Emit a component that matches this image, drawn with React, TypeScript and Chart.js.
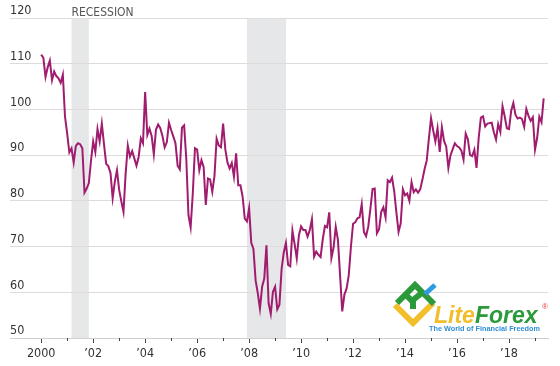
import React, { useEffect, useRef } from "react";
import { Chart, registerables } from "chart.js";

Chart.register(...registerables);

const startYear = 2000;
// Monthly index values, Jan 2000 .. May 2019
const sentiment2000s = [
  112.0, 111.3, 107.1, 109.2, 110.7, 106.4, 108.3, 107.3, 106.8, 105.8, 107.6, 98.4,
  94.7, 90.6, 91.5, 88.4, 92.0, 92.6, 92.4, 91.5, 81.8, 82.7, 83.9, 88.8,
  93.0, 90.7, 95.7, 93.0, 96.9, 92.4, 88.1, 87.6, 86.1, 80.6, 84.2, 86.7,
  82.4, 79.9, 77.6, 86.0, 92.1, 89.7, 90.9, 89.3, 87.7, 89.6, 93.7, 92.6,
  103.8, 94.4, 95.8, 94.2, 90.2, 95.6, 96.7, 95.9, 94.2, 91.7, 92.8, 97.1,
  95.5, 94.1, 92.6, 87.7, 86.9, 96.0, 96.5, 89.1, 76.9, 74.2, 81.6, 91.5,
  91.2, 86.7, 88.9, 87.4, 79.1, 84.9, 84.7, 82.0, 85.4, 93.6, 92.1, 91.7,
  96.9, 91.3, 88.4, 87.1, 88.3, 85.3, 90.4, 83.4, 83.4, 80.9, 76.1, 75.5,
  78.4, 70.8, 69.5, 62.6, 59.8, 56.4, 61.2, 63.0, 70.3, 57.6, 55.3, 60.1,
  61.2, 56.3, 57.3, 65.1, 68.7, 70.8, 66.0, 65.7, 73.5, 70.6, 67.4, 72.5,
];
const sentiment2010s = [
  74.4, 73.6, 73.6, 72.2, 73.6, 76.0, 67.8, 68.9, 68.2, 67.7, 71.6, 74.5,
  74.2, 77.5, 67.5, 69.8, 74.3, 71.5, 63.7, 55.8, 59.5, 60.8, 63.7, 69.9,
  75.0, 75.3, 76.2, 76.4, 79.3, 73.2, 72.3, 74.3, 78.3, 82.6, 82.7, 72.9,
  73.8, 77.6, 78.6, 76.4, 84.5, 84.1, 85.1, 82.1, 77.5, 73.2, 75.1, 82.5,
  81.2, 81.6, 80.0, 84.1, 81.9, 82.5, 81.8, 82.5, 84.6, 86.9, 88.8, 93.6,
  98.1, 95.4, 93.0, 95.9, 90.7, 96.1, 93.1, 91.9, 87.2, 90.0, 91.3, 92.6,
  92.0, 91.7, 91.0, 89.0, 94.7, 93.5, 90.0, 89.8, 91.2, 87.2, 93.8, 98.2,
  98.5, 96.3, 96.9, 97.0, 97.1, 95.0, 93.4, 96.8, 95.1, 100.7, 98.5, 95.9,
  95.7, 99.7, 101.4, 98.8, 98.0, 98.2, 97.9, 96.2, 100.1, 98.6, 97.5, 98.3,
  91.2, 93.8, 98.4, 97.2, 102.4,
];
const sentiment = [...sentiment2000s, ...sentiment2010s];

// Recession periods as [start, end] in fractional years
const recessionStarts = [2001 + 2 / 12, 2007 + 11 / 12];
const recessionEnds = [2001 + 10 / 12, 2009 + 5 / 12];

const xTickYears = [2000, 2002, 2004, 2006, 2008, 2010, 2012, 2014, 2016, 2018];
const minorTickYears = [2001, 2003, 2005, 2007, 2009, 2011, 2013, 2015, 2017, 2019];
const yTicks = [50, 60, 70, 80, 90, 100, 110, 120];

const FONT = "'Liberation Sans Narrow', 'DejaVu Sans Condensed', 'Roboto', sans-serif";

const recessionPlugin = {
  id: "recession",
  beforeDraw(chart: any) {
    const { ctx, chartArea, scales } = chart;
    const x = scales.x;
    ctx.save();
    ctx.fillStyle = "#e6e7e9";
    for (let i = 0; i < recessionStarts.length; i++) {
      const a = x.getPixelForValue(recessionStarts[i]);
      const b = x.getPixelForValue(recessionEnds[i]);
      ctx.fillRect(a, chartArea.top, b - a, chartArea.bottom - chartArea.top);
    }
    const a0 = x.getPixelForValue(recessionStarts[0]);
    ctx.fillStyle = "#555";
    ctx.font = `12px ${FONT}`;
    ctx.textBaseline = "alphabetic";
    ctx.textAlign = "left";
    ctx.fillText("RECESSION", a0, chartArea.top - 2);
    ctx.restore();
  },
};

const minorTickPlugin = {
  id: "minorTicks",
  afterDraw(chart: any) {
    const { ctx, chartArea, scales } = chart;
    const x = scales.x;
    ctx.save();
    ctx.strokeStyle = "#444";
    ctx.lineWidth = 1;
    ctx.beginPath();
    for (const yr of minorTickYears) {
      const px = Math.round(x.getPixelForValue(yr)) + 0.5;
      ctx.moveTo(px, chartArea.bottom);
      ctx.lineTo(px, chartArea.bottom + 3);
    }
    ctx.stroke();
    ctx.restore();
  },
};

const logoPlugin = {
  id: "logo",
  afterDraw(chart: any) {
    const { ctx } = chart;
    ctx.save();
    ctx.lineCap = "butt";
    ctx.lineJoin = "miter";
    // yellow chevron
    ctx.strokeStyle = "#f2be2c";
    ctx.lineWidth = 6;
    ctx.beginPath();
    ctx.moveTo(395, 305);
    ctx.lineTo(413, 323);
    ctx.lineTo(433, 303);
    ctx.stroke();
    // green shape
    ctx.strokeStyle = "#2a9a3a";
    ctx.beginPath();
    ctx.moveTo(397, 303);
    ctx.lineTo(415, 285);
    ctx.lineTo(434, 304);
    ctx.stroke();
    ctx.beginPath();
    ctx.moveTo(407, 296);
    ctx.lineTo(413, 302);
    ctx.lineTo(413, 309);
    ctx.stroke();
    ctx.beginPath();
    ctx.moveTo(413, 300);
    ctx.lineTo(423, 292);
    ctx.stroke();
    // blue stroke
    ctx.strokeStyle = "#2f9be0";
    ctx.lineWidth = 5;
    ctx.beginPath();
    ctx.moveTo(425, 294);
    ctx.lineTo(435, 285);
    ctx.stroke();
    // text
    ctx.textBaseline = "alphabetic";
    ctx.textAlign = "left";
    ctx.font = "italic bold 23px 'Liberation Sans', Arial, sans-serif";
    ctx.fillStyle = "#f2be2c";
    ctx.fillText("Lite", 434, 323);
    const w = ctx.measureText("Lite").width;
    ctx.fillStyle = "#2a9a3a";
    ctx.fillText("Forex", 434 + w, 323);
    ctx.font = "bold 7.3px 'Liberation Sans', Arial, sans-serif";
    ctx.fillStyle = "#2f8fd8";
    ctx.fillText("The World of Financial Freedom", 429, 331);
    ctx.font = "8px 'Liberation Sans', Arial, sans-serif";
    ctx.fillStyle = "#e04040";
    ctx.fillText("\u00ae", 542, 309);
    ctx.restore();
  },
};

export default function App() {
  const ref = useRef<HTMLCanvasElement | null>(null);

  useEffect(() => {
    if (!ref.current) return;
    const points = sentiment.map((v, i) => ({ x: startYear + i / 12, y: v }));
    const chart = new Chart(ref.current, {
      type: "line",
      data: {
        datasets: [
          {
            data: points,
            borderColor: "#a01c6e",
            borderWidth: 2,
            pointRadius: 0,
            tension: 0,
            fill: false,
          },
        ],
      },
      options: {
        animation: false,
        responsive: true,
        maintainAspectRatio: false,
        layout: { padding: { left: 10, right: 12, top: 18, bottom: 0 } },
        plugins: { legend: { display: false }, tooltip: { enabled: false } },
        scales: {
          x: {
            type: "linear",
            min: 1998.8,
            max: 2019.5,
            afterFit: (s: any) => {
              s.height = 28;
            },
            afterBuildTicks: (s: any) => {
              s.ticks = xTickYears.map((v) => ({ value: v }));
            },
            grid: { drawOnChartArea: false, drawTicks: true, tickLength: 5, color: "#444" },
            border: { display: true, color: "#cfcfcf" },
            ticks: {
              padding: 3,
              color: "#333",
              font: { family: FONT, size: 12.5 },
              maxRotation: 0,
              autoSkip: false,
              callback: (v: any) => (v === 2000 ? "2000" : "\u2019" + String(v).slice(2)),
            },
          },
          y: {
            min: 50,
            max: 120,
            afterFit: (s: any) => {
              s.width = 0;
            },
            afterBuildTicks: (s: any) => {
              s.ticks = yTicks.map((v) => ({ value: v }));
            },
            grid: { drawTicks: false, color: "#dcdcdc" },
            border: { display: false },
            ticks: {
              mirror: true,
              padding: 0,
              labelOffset: -7,
              color: "#333",
              font: { family: FONT, size: 12.5 },
            },
          },
        },
      },
      plugins: [recessionPlugin, minorTickPlugin, logoPlugin],
    });
    return () => chart.destroy();
  }, []);

  return (
    <div style={{ position: "fixed", left: 0, top: 0, width: 560, height: 366, background: "#fff" }}>
      <canvas ref={ref} />
    </div>
  );
}
